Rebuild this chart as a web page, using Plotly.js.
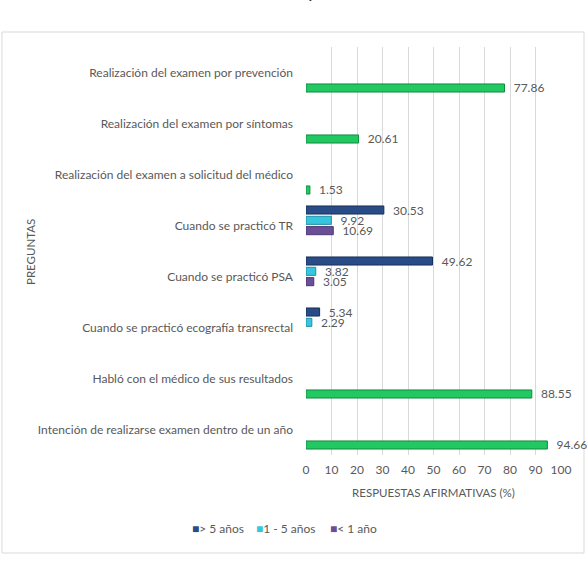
<!DOCTYPE html>
<html><head><meta charset="utf-8">
<script src="https://cdn.plot.ly/plotly-3.0.1.min.js"></script>
<style>body{margin:0;background:#fff}#chart{width:588px;height:586px}</style>
</head><body><div id="chart"></div>
<script>
const categories = [
  "Realización del examen por prevención",
  "Realización del examen por síntomas",
  "Realización del examen a solicitud del médico",
  "Cuando se practicó TR",
  "Cuando se practicó PSA",
  "Cuando se practicó ecografía transrectal",
  "Habló con el médico de sus resultados",
  "Intención de realizarse examen dentro de un año"
];
const seriesNames = ["> 5 años", "1 - 5 años", "< 1 año"];
const mas5 = [null, null, null, 30.53, 49.62, 5.34, null, null];
const uno5 = [null, null, null, 9.92, 3.82, 2.29, null, null];
const menos1 = [null, null, null, 10.69, 3.05, null, null, null];
const general = [77.86, 20.61, 1.53, null, null, null, 88.55, 94.66];
const xTicks = [0,10,20,30,40,50,60,70,80,90,100];

const colors = ["#2a4c86", "#38c6de", "#6b4f96", "#22c862"];
const lines = ["#172f5a", "#1f8fa6", "#4a3570", "#138a3e"];
const fnt = "Lato, 'Open Sans', sans-serif";
const gray = '#595959';
function tr(vals, name, i){
  return {type:'bar', orientation:'h', y:categories, x:vals, name:name, showlegend:false,
    marker:{color:colors[i], line:{color:lines[i], width:1}},
    text: vals.map(v => v==null ? '' : '\u00a0\u00a0' + v.toFixed(2)),
    textposition:'outside', constraintext:'none', cliponaxis:false,
    textfont:{family:fnt, size:12, color:gray}, hoverinfo:'x+y'};
}
const data = [tr(mas5, seriesNames[0], 0), tr(uno5, seriesNames[1], 1),
  tr(menos1, seriesNames[2], 2), tr(general, 'Total', 3)];

// paper coordinate helpers (plot area: x 306..561, y 47..455)
const px = x => (x - 306) / 255;
const py = y => (455 - y) / 408;

const legendX = [190, 254, 328];
const legendAnn = seriesNames.map((n, i) => ({
  xref:'paper', yref:'paper', x:px(legendX[i]), y:py(528), xanchor:'left', yanchor:'middle',
  text:'<span style="color:' + colors[i] + '">■</span>' + n.replace('<','&lt;').replace('>','&gt;'),
  showarrow:false, font:{size:12, color:gray}
}));

const layout = {
  width:588, height:586, margin:{l:306, r:27, t:47, b:131},
  paper_bgcolor:'#fff', plot_bgcolor:'#fff',
  font:{family:fnt, color:gray, size:12},
  barmode:'group', bargap:0.19, bargroupgap:0.22,
  showlegend:false,
  xaxis:{range:[0,100], tickvals:xTicks, showgrid:true, gridcolor:'#d9d9d9', gridwidth:1,
    zeroline:false, showline:false, ticks:'outside', ticklen:4, tickcolor:'rgba(0,0,0,0)',
    tickfont:{size:12, color:gray},
    title:{text:'RESPUESTAS AFIRMATIVAS (%)', font:{size:11.5, color:gray}, standoff:12}},
  yaxis:{type:'category', autorange:'reversed', showgrid:false, zeroline:false, ticks:'',
    ticklabelstandoff:12, tickfont:{size:12, color:gray}},
  shapes:[{type:'rect', xref:'paper', yref:'paper', x0:px(2), x1:px(584), y0:py(553), y1:py(32),
    line:{color:'#d9d9d9', width:1}, fillcolor:'rgba(0,0,0,0)', layer:'below'}],
  annotations:[{xref:'paper', yref:'paper', x:px(290), y:py(3), yanchor:'bottom', xanchor:'center',
    text:'<b>del cáncer de próstata</b>', showarrow:false, font:{size:15, color:'#404040'}},
    {xref:'paper', yref:'paper', x:px(30), y:py(252), xanchor:'center', yanchor:'middle', textangle:-90,
    text:'PREGUNTAS', showarrow:false, font:{size:11.5, color:gray}}].concat(legendAnn)
};
Plotly.newPlot('chart', data, layout, {displayModeBar:false});
</script></body></html>
